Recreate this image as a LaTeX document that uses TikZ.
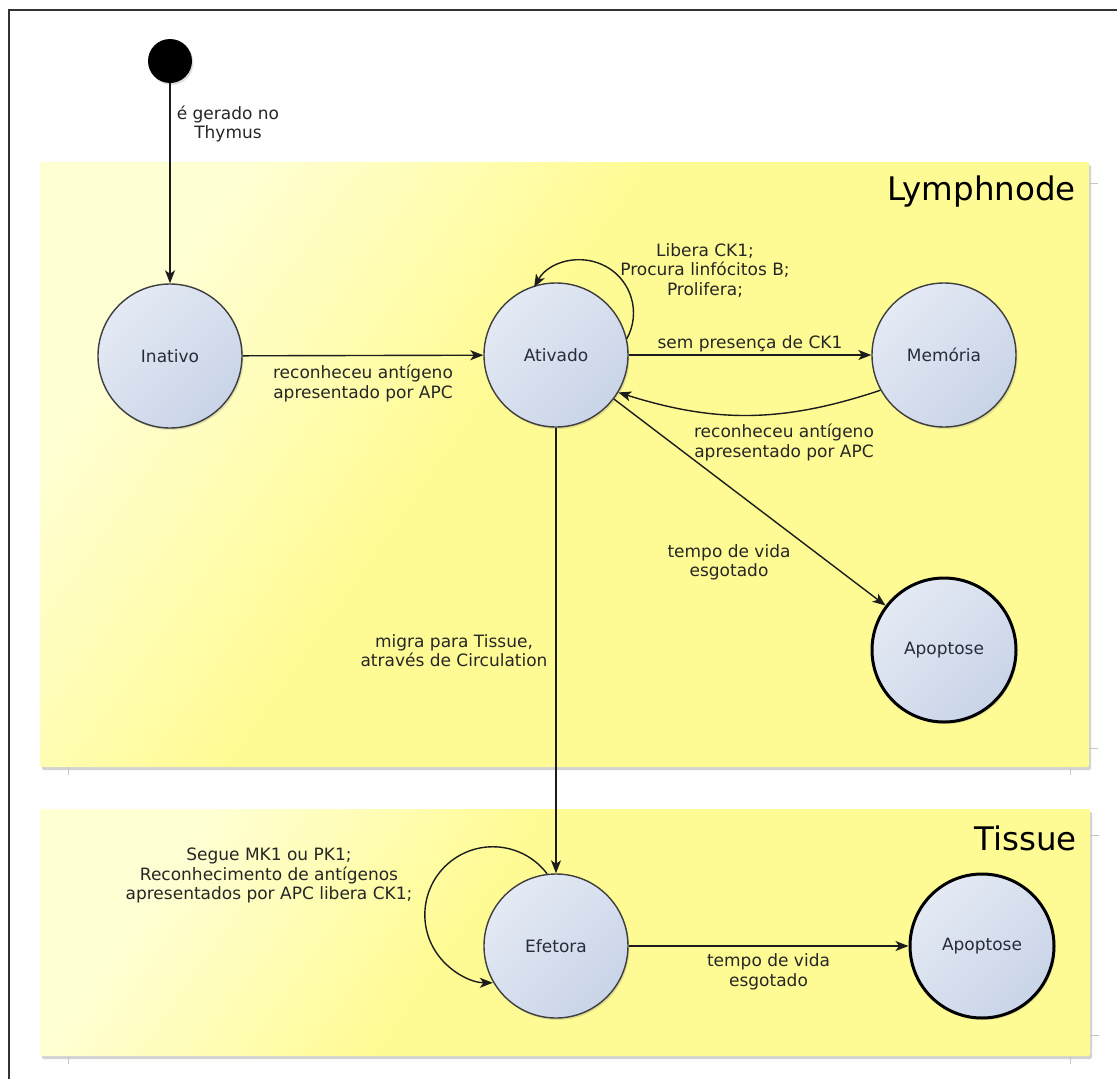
\documentclass[tikz,border=0pt]{standalone}
\usepackage{fontspec}
\setmainfont{DejaVu Sans}
\usetikzlibrary{arrows.meta,shadows}

\definecolor{zoneyel}{RGB}{255,251,148}
\definecolor{zonelight}{RGB}{255,255,212}
\definecolor{stlight}{RGB}{228,234,244}
\definecolor{stdark}{RGB}{201,212,232}
\definecolor{ink}{RGB}{28,28,28}
\definecolor{txt}{RGB}{38,38,38}
\definecolor{sttxt}{RGB}{40,44,58}

% pale top-left corner fading into the zone yellow
\pgfdeclarehorizontalshading{zoneshade}{100bp}{color(0bp)=(zonelight); color(25bp)=(zonelight); color(44bp)=(zoneyel); color(100bp)=(zoneyel)}

\tikzset{
  zone/.style={rectangle, rounded corners=2pt, draw=none, inner sep=0pt,
    shading=zoneshade, shading angle=-35,
    drop shadow={shadow xshift=2pt, shadow yshift=-3pt, opacity=0.35, fill=gray}},
  zonetitle/.style={font=\fontsize{32.5}{36}\selectfont, text=black, inner sep=0pt, anchor=base east},
  state/.style={circle, minimum size=144pt, inner sep=0pt, draw=ink!85, line width=1.4pt,
    top color=stlight, bottom color=stdark, shading angle=45,
    font=\fontsize{17}{19.5}\selectfont, text=sttxt,
    drop shadow={shadow xshift=1.5pt, shadow yshift=-2pt, opacity=0.25}},
  finalstate/.style={state, draw=black, line width=3pt},
  startdot/.style={circle, minimum size=44pt, inner sep=0pt, fill=black,
    drop shadow={shadow xshift=1.5pt, shadow yshift=-2pt, opacity=0.25}},
  edge/.style={draw=ink, line width=1.4pt, -{Stealth[length=13pt,width=10pt,inset=3.5pt]}},
  lbl/.style={align=center, inner sep=0pt, text=txt, font=\fontsize{17}{19.5}\selectfont},
  ruletick/.style={draw=gray!45, line width=1pt},
  frameline/.style={draw=black!80, line width=2pt}
}

\begin{document}
\begin{tikzpicture}[x=1pt,y=1pt]
  \useasboundingbox[fill=white] (0,0) rectangle (1117,-1079);

  % window frame (top and left edges)
  \draw[frameline] (9,-1079) -- (9,-10) -- (1117,-10);

  % zones
  \node[zone, minimum width=1049pt, minimum height=605pt] (lymph) at (564.5,-464.5) {};
  \node[zone, minimum width=1050pt, minimum height=247pt] (tissue) at (565,-932.5) {};
  \node[zonetitle] (lymphtitle) at (1076,-200) {Lymphnode};
  \node[zonetitle] (tissuetitle) at (1077,-850) {Tissue};

  % small ruler ticks along the zone edges
  \draw[ruletick] (1089,-183) -- (1098,-183);
  \draw[ruletick] (1089,-748) -- (1098,-748);
  \draw[ruletick] (68,-767) -- (68,-775);
  \draw[ruletick] (1070,-767) -- (1070,-775);
  \draw[ruletick] (1090,-835) -- (1099,-835);
  \draw[ruletick] (1090,-1035) -- (1099,-1035);
  \draw[ruletick] (68,-1056) -- (68,-1064);
  \draw[ruletick] (1070,-1056) -- (1070,-1064);

  % states
  \node[startdot] (init) at (170,-61) {};
  \node[state] (inativo) at (170,-356) {Inativo};
  \node[state] (ativado) at (556,-355) {Ativado};
  \node[state] (memoria) at (944,-355) {Memória};
  \node[finalstate] (apop1) at (944,-650) {Apoptose};
  \node[state] (efetora) at (556,-946) {Efetora};
  \node[finalstate] (apop2) at (982,-946) {Apoptose};

  % transitions
  \draw[edge] (init) -- (inativo);
  \draw[edge] (inativo) -- (ativado);
  \draw[edge] (ativado.13) arc[start angle=-29, end angle=151, radius=53];
  \draw[edge] (ativado) -- (memoria);
  \draw[edge] (memoria.209) to[bend left=18] (ativado.329);
  \draw[edge] (ativado) -- (apop1);
  \draw[edge] (ativado) -- (efetora);
  \draw[edge] (efetora.97) arc[start angle=37, end angle=270, radius=68];
  \draw[edge] (efetora) -- (apop2);

  % transition labels
  \node[lbl] (lthymus) at (228,-124) {é gerado no\\Thymus};
  \node[lbl] (lrec1) at (363,-383.5) {reconheceu antígeno\\apresentado por APC};
  \node[lbl] (lloop1) at (705,-270.5) {Libera CK1;\\Procura linfócitos B;\\Prolifera;};
  \node[lbl, anchor=base] (lsem) at (750,-348) {sem presença de CK1};
  \node[lbl] (lrec2) at (784,-442.5) {reconheceu antígeno\\apresentado por APC};
  \node[lbl] (ltempo1) at (729,-562.5) {tempo de vida\\esgotado};
  \node[lbl] (lmigra) at (454,-650.5) {migra para Tissue,\\através de Circulation};
  \node[lbl] (lloop2) at (269,-875.5) {Segue MK1 ou PK1;\\Reconhecimento de antígenos\\apresentados por APC libera CK1;};
  \node[lbl] (ltempo2) at (768.5,-972) {tempo de vida\\esgotado};
\end{tikzpicture}
\end{document}
